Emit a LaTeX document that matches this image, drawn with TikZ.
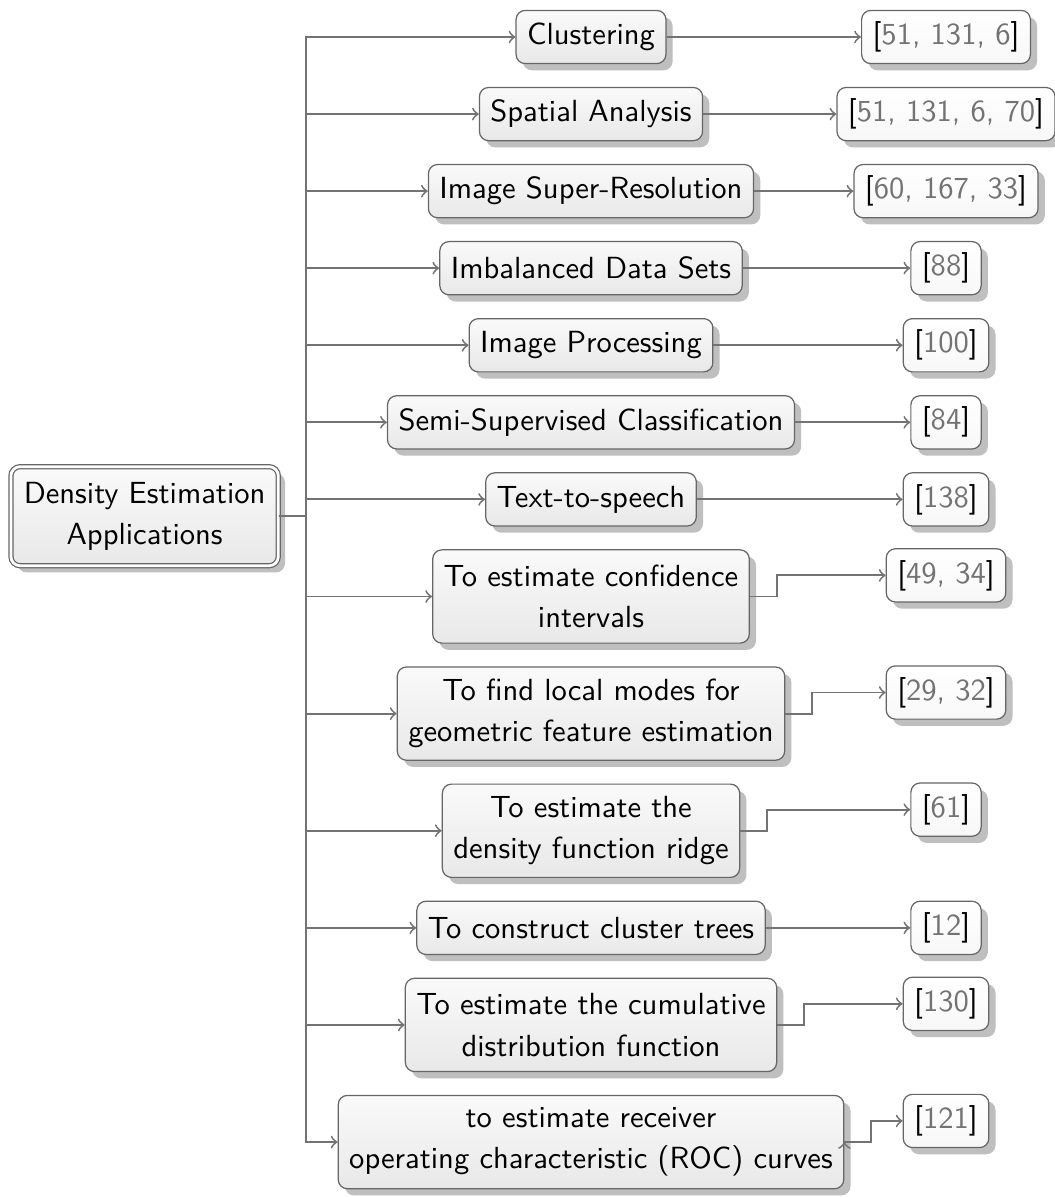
\documentclass[tikz,border=0pt]{standalone}
\usepackage{tikz}
\usetikzlibrary{positioning, shadows, calc}

\tikzset{
  app/.style={rectangle, draw=black!60, rounded corners=3pt, top color=black!2, bottom color=black!9,
    align=center, inner xsep=3.6pt, inner ysep=3.4pt, minimum height=17.4pt,
    drop shadow={shadow xshift=2.2pt, shadow yshift=-2.2pt, fill=black!25, opacity=1}},
  two/.style={minimum height=30.5pt},
  ref/.style={app, top color=white, bottom color=black!3},
  root/.style={app, double, double distance=0.9pt, inner xsep=4.2pt, minimum height=32.4pt},
  elbow/.style={to path={-- ++(8.8pt,0) |- (\tikztotarget)}},
}
\newcommand{\refs}[1]{[\textcolor{black!55}{#1}]}

\begin{document}
\begin{tikzpicture}[x=0.327pt, y=0.327pt, >=to, every node/.style={font=\sffamily\fontsize{10}{13.5}\selectfont}]
    \useasboundingbox (-591,37) rectangle (463,-1160);

    \node[app] (app1) {Clustering};
    \node[app, below=7.4pt of app1] (app2) {Spatial Analysis};
    \node[app, below=7.4pt of app2] (app3) {Image Super-Resolution};
    \node[app, below=7.4pt of app3] (app4) {Imbalanced Data Sets};
    \node[app, below=7.4pt of app4] (app5) {Image Processing};
    \node[app, below=7.4pt of app5] (app6) {Semi-Supervised Classification};
    \node[app, below=7.4pt of app6] (app7) {Text-to-speech};
    \node[app, two, below=7.4pt of app7] (app8) {To estimate confidence\\intervals};
    \node[app, two, below=7.4pt of app8] (app9) {To find local modes for\\geometric feature estimation};
    \node[app, two, below=7.4pt of app9] (app10) {To estimate the\\density function ridge};
    \node[app, below=7.4pt of app10] (app11) {To construct cluster trees};
    \node[app, two, below=7.4pt of app11] (app12) {To estimate the cumulative\\distribution function};
    \node[app, two, below=7.4pt of app12] (app13) {to estimate receiver\\operating characteristic (ROC) curves};

    \node[root, left of=app7, xshift=-4.13cm, yshift=-5.5pt] (density) {Density Estimation\\Applications};

    \node[ref, right of=app1, xshift=3.08cm] (ref1) {\refs{51, 131, 6}};
    \node[ref, right of=app2, xshift=3.08cm] (ref2) {\refs{51, 131, 6, 70}};
    \node[ref, right of=app3, xshift=3.08cm] (ref3) {\refs{60, 167, 33}};
    \node[ref, right of=app4, xshift=3.08cm] (ref4) {\refs{88}};
    \node[ref, right of=app5, xshift=3.08cm] (ref5) {\refs{100}};
    \node[ref, right of=app6, xshift=3.08cm] (ref6) {\refs{84}};
    \node[ref, right of=app7, xshift=3.08cm] (ref7) {\refs{138}};
    \node[ref, right of=app8, xshift=3.08cm, yshift=6.9pt] (ref8) {\refs{49, 34}};
    \node[ref, right of=app9, xshift=3.08cm, yshift=6.9pt] (ref9) {\refs{29, 32}};
    \node[ref, right of=app10, xshift=3.08cm, yshift=6.9pt] (ref10) {\refs{61}};
    \node[ref, right of=app11, xshift=3.08cm] (ref11) {\refs{12}};
    \node[ref, right of=app12, xshift=3.08cm, yshift=6.9pt] (ref12) {\refs{130}};
    \node[ref, right of=app13, xshift=3.08cm, yshift=6.9pt] (ref13) {\refs{121}};

    \path[->, semithick, draw=black!55]
    \foreach \i in {1,...,13} {(density.east) edge[elbow] (app\i.west)}
    \foreach \i in {1,...,7,11} {(app\i) edge (ref\i)}
    \foreach \i in {8,9,10,12,13} {(app\i.east) edge[elbow] (ref\i.west)};
\end{tikzpicture}
\end{document}
